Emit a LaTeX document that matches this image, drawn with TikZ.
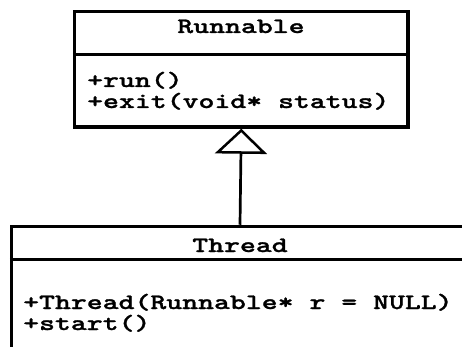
\documentclass[tikz,border=0pt]{standalone}
\usepackage{fontspec}
\newfontfamily\umlfont{lmmonolt10-bold}[Extension=.otf, FakeStretch=1.377, FakeBold=1.2]
\usetikzlibrary{arrows.meta}
\tikzset{
  classbox/.style={draw, line width=3.5pt, inner sep=0pt},
  divider/.style={line width=3.5pt},
  umltext/.style={inner sep=0pt, font=\fontsize{22}{22}\selectfont\umlfont},
  inherits/.style={line width=2.7pt,
    -{Triangle[open, width=52pt, length=25pt, line width=2.5pt]}},
}
\begin{document}
\begin{tikzpicture}[x=1pt, y=-1pt]
\useasboundingbox (0,0) rectangle (462,347);
\clip (0,0) rectangle (462,347);

% class Runnable
\node[classbox, minimum width=333.5pt, minimum height=115.5pt] (runnable) at (241.25,69.25) {};
\coordinate (rdiv) at (0,54.5);
\draw[divider] (runnable.west |- rdiv) -- (runnable.east |- rdiv);
\node[umltext, anchor=base] (rtitle) at (241,33) {Runnable};
\node[umltext, anchor=base west] (rrun) at (87,87) {+run()};
\node[umltext, anchor=base west] (rexit) at (87,108) {+exit(void* status)};

% class Thread (runs past the right and bottom edges)
\node[classbox, minimum width=457pt, minimum height=143.5pt] (thread) at (240,298.25) {};
\coordinate (tdiv) at (0,259.5);
\draw[divider] (thread.west |- tdiv) -- (thread.east |- tdiv);
\node[umltext, anchor=base] (ttitle) at (240,252) {Thread};
\node[umltext, anchor=base west] (tctor) at (23,309) {+Thread(Runnable* r = NULL)};
\node[umltext, anchor=base west] (tstart) at (23,330) {+start()};

% generalization
\draw[inherits] (thread.north) -- (runnable.south);
\end{tikzpicture}
\end{document}
